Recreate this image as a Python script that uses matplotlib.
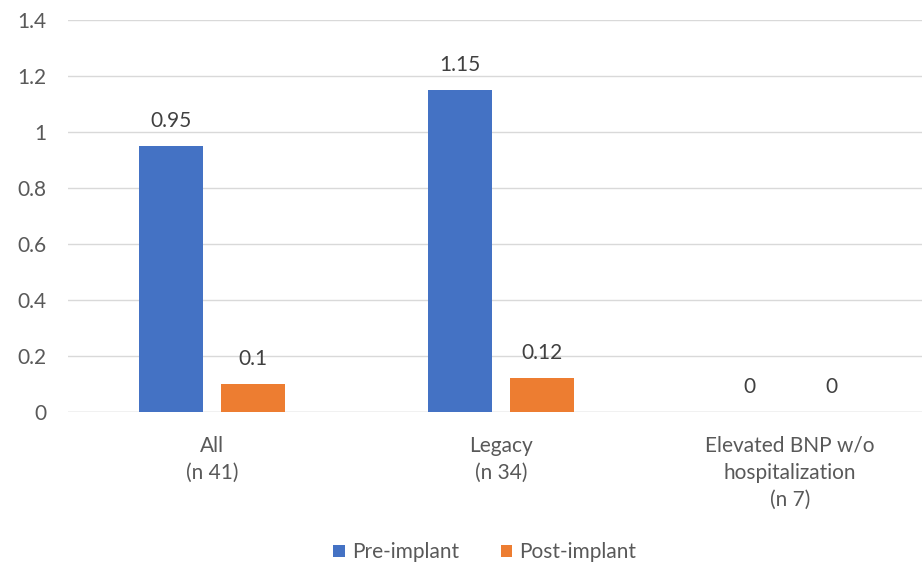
import matplotlib.pyplot as plt
import numpy as np

plt.rcParams['font.family'] = ['Lato', 'DejaVu Sans']

categories = ["All\n(n 41)", "Legacy\n(n 34)", "Elevated BNP w/o\nhospitalization\n(n 7)"]
series_names = ["Pre-implant", "Post-implant"]
pre_implant = [0.95, 1.15, 0]
post_implant = [0.1, 0.12, 0]
y_ticks = [0, 0.2, 0.4, 0.6, 0.8, 1, 1.2, 1.4]
y_tick_labels = ["0", "0.2", "0.4", "0.6", "0.8", "1", "1.2", "1.4"]

blue = "#4472C4"
orange = "#ED7D31"
text_grey = "#595959"
grid_grey = "#D9D9D9"
fs = 15

fig = plt.figure(figsize=(9.22, 5.64), dpi=100)
# plot area runs slightly past the right edge of the canvas
ax = fig.add_axes([0.0733, 0.2695, 0.9404, 0.695])

x = np.arange(len(categories))
w = 0.221
gap = 0.062
off = (w + gap) / 2

b1 = ax.bar(x - off, pre_implant, w, color=blue, label=series_names[0], zorder=3)
b2 = ax.bar(x + off, post_implant, w, color=orange, label=series_names[1], zorder=3)

for bars, vals in ((b1, pre_implant), (b2, post_implant)):
    for rect, v in zip(bars, vals):
        ax.annotate(f"{v:g}", (rect.get_x() + rect.get_width() / 2, v),
                    xytext=(0, 11), textcoords="offset points",
                    ha="center", va="bottom", fontsize=fs, color="#404040")

ax.set_xlim(-0.5, 2.5)
ax.set_ylim(0, 1.4)
ax.set_yticks(y_ticks)
ax.set_yticklabels(y_tick_labels)
ax.set_xticks(x)
ax.set_xticklabels(categories, linespacing=1.45)
ax.tick_params(axis='both', length=0, labelsize=fs, labelcolor=text_grey)
ax.tick_params(axis='y', pad=15)
ax.tick_params(axis='x', pad=17)

ax.yaxis.grid(True, color=grid_grey, linewidth=1, zorder=0)
for s in ax.spines.values():
    s.set_visible(False)
ax.axhline(0, color=grid_grey, linewidth=1, zorder=2)

leg = fig.legend(handles=[b1, b2], labels=series_names, loc="center",
                 bbox_to_anchor=(0.526, 0.021), ncol=2, frameon=False,
                 fontsize=fs, handlelength=0.55, handleheight=0.55,
                 handletextpad=0.35, columnspacing=2.0)
for t in leg.get_texts():
    t.set_color(text_grey)

fig.savefig("out.png", dpi=100)
